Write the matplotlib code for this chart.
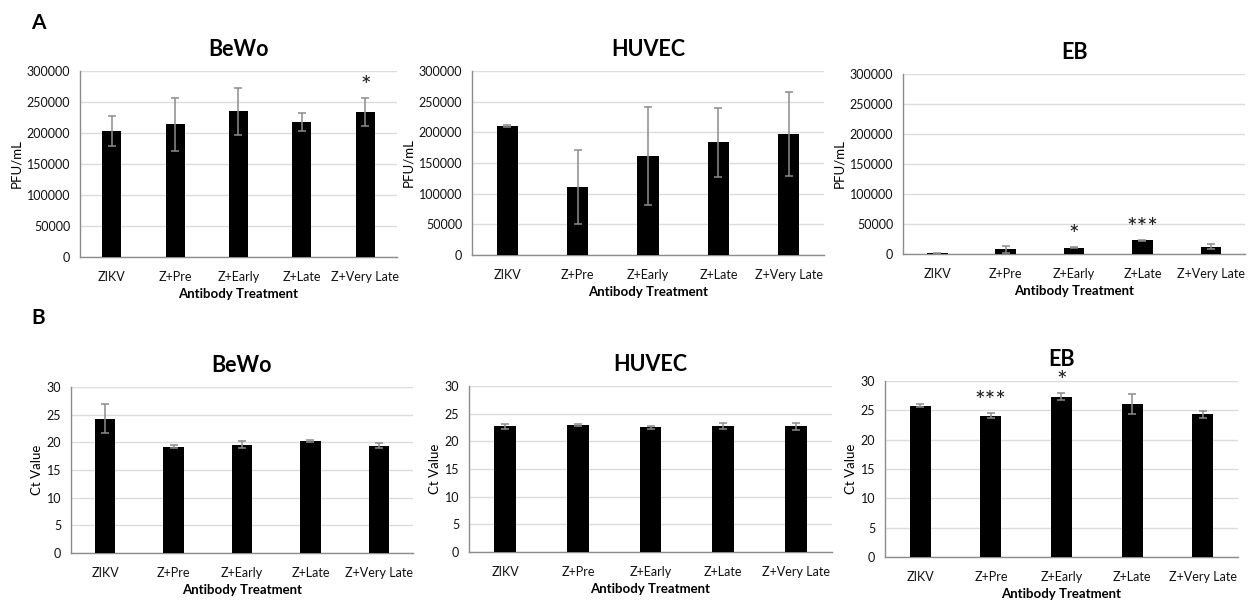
import numpy as np
import matplotlib.pyplot as plt

plt.rcParams['font.family'] = ['Lato', 'DejaVu Sans']

treatments = ['ZIKV', 'Z+Pre', 'Z+Early', 'Z+Late', 'Z+Very Late']

# Panel A: plaque assay titres (PFU/mL)
pfu_bewo = [203000, 214000, 235000, 218000, 234000]
pfu_bewo_err = [24000, 43000, 38000, 14000, 23000]
pfu_huvec = [211000, 111000, 161500, 184000, 198000]
pfu_huvec_err = [1500, 60500, 80500, 56000, 68500]
pfu_eb = [1000, 7800, 10500, 23000, 12200]
pfu_eb_err = [500, 5500, 600, 1000, 4000]

# Panel B: qPCR Ct values
ct_bewo = [24.3, 19.2, 19.6, 20.3, 19.4]
ct_bewo_err = [2.7, 0.3, 0.6, 0.2, 0.4]
ct_huvec = [22.7, 23.0, 22.5, 22.8, 22.7]
ct_huvec_err = [0.5, 0.2, 0.2, 0.5, 0.7]
ct_eb = [25.8, 24.1, 27.3, 26.1, 24.3]
ct_eb_err = [0.3, 0.4, 0.6, 1.7, 0.6]

# significance marks per bar
stars_pfu_bewo = ['', '', '', '', '*']
stars_pfu_huvec = ['', '', '', '', '']
stars_pfu_eb = ['', '', '*', '***', '']
stars_ct_bewo = ['', '', '', '', '']
stars_ct_huvec = ['', '', '', '', '']
stars_ct_eb = ['', '***', '*', '', '']

fig = plt.figure(figsize=(12.48, 6.03), dpi=100)

# (title, values, errors, stars, ylabel, ymax, ystep, axes rect)
panels = [
    ('BeWo', pfu_bewo, pfu_bewo_err, stars_pfu_bewo, 'PFU/mL', 300000, 50000,
     [0.0641, 0.5738, 0.2540, 0.3085]),
    ('HUVEC', pfu_huvec, pfu_huvec_err, stars_pfu_huvec, 'PFU/mL', 300000, 50000,
     [0.3782, 0.5771, 0.2821, 0.3051]),
    ('EB', pfu_eb, pfu_eb_err, stars_pfu_eb, 'PFU/mL', 300000, 50000,
     [0.7236, 0.5788, 0.2740, 0.2985]),
    ('BeWo', ct_bewo, ct_bewo_err, stars_ct_bewo, 'Ct Value', 30, 5,
     [0.0569, 0.0829, 0.2740, 0.2753]),
    ('HUVEC', ct_huvec, ct_huvec_err, stars_ct_huvec, 'Ct Value', 30, 5,
     [0.3758, 0.0846, 0.2909, 0.2753]),
    ('EB', ct_eb, ct_eb_err, stars_ct_eb, 'Ct Value', 30, 5,
     [0.7091, 0.0763, 0.2829, 0.2919]),
]

x = np.arange(len(treatments))
for title, vals, errs, stars, ylab, ymax, ystep, rect in panels:
    ax = fig.add_axes(rect)
    ax.bar(x, vals, width=0.3, color='black', zorder=3)
    ax.errorbar(x, vals, yerr=errs, fmt='none', ecolor='#8c8c8c',
                elinewidth=1.1, capsize=3, capthick=1.1, zorder=4)
    for xi, v, e, s in zip(x, vals, errs, stars):
        if s:
            ax.annotate(s, (xi, v + e), xytext=(0, 0), textcoords='offset points',
                        ha='center', va='bottom', fontsize=18, color='#1a1a1a')
    ax.set_xlim(-0.5, len(treatments) - 0.5)
    ax.set_ylim(0, ymax)
    ax.set_yticks(np.arange(0, ymax + ystep / 2, ystep))
    ax.set_xticks(x)
    ax.set_xticklabels(treatments)
    ax.grid(axis='y', color='#dcdcdc', lw=1, zorder=0)
    ax.tick_params(axis='x', length=0, labelsize=9, colors='#111111', pad=10)
    ax.tick_params(axis='y', length=0, labelsize=9, colors='#111111', pad=7)
    for side in ['top', 'right']:
        ax.spines[side].set_visible(False)
    for side in ['left', 'bottom']:
        ax.spines[side].set_color('#8c8c8c')
        ax.spines[side].set_linewidth(1)
    ax.set_title(title, fontsize=15.5, fontweight='bold', pad=11)
    ax.set_xlabel('Antibody Treatment', fontsize=9.5, fontweight='bold', labelpad=4)
    ax.set_ylabel(ylab, fontsize=9.5, labelpad=3)

fig.text(38 / 1248, 1 - 23 / 603, 'A', fontsize=15, fontweight='bold',
         ha='center', va='center')
fig.text(38 / 1248, 1 - 318 / 603, 'B', fontsize=15, fontweight='bold',
         ha='center', va='center')

fig.savefig('out.png', dpi=100)
